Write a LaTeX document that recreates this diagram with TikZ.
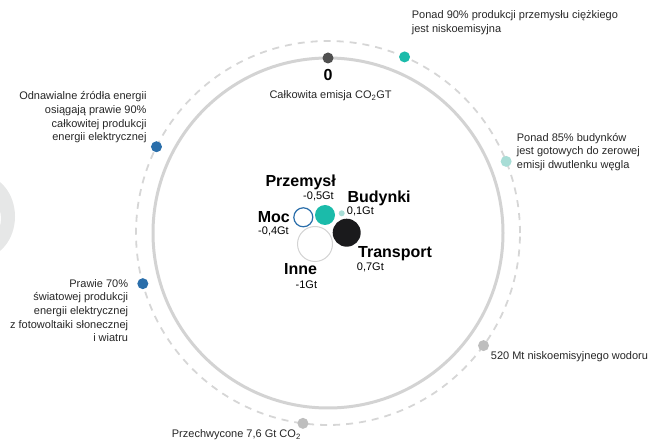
\documentclass[tikz,border=0pt]{standalone}
\usepackage{fontspec}
\setmainfont{Liberation Sans}
\definecolor{ringgray}{RGB}{211,211,211}
\definecolor{dashgray}{RGB}{214,214,214}
\definecolor{dotdark}{RGB}{80,80,80}
\definecolor{dotteal}{RGB}{27,187,170}
\definecolor{dotmint}{RGB}{168,221,214}
\definecolor{dotblue}{RGB}{42,110,170}
\definecolor{dotgray}{RGB}{190,190,190}
\definecolor{ghostgray}{RGB}{230,231,231}
\definecolor{bubblack}{RGB}{26,26,28}
\tikzset{
  note/.style={font=\fontsize{11}{13.6}\selectfont, inner sep=0pt, text=black!85},
  sectorname/.style={font=\fontsize{16}{18}\selectfont\bfseries, inner sep=0pt},
  sectorval/.style={font=\fontsize{11}{13}\selectfont, inner sep=0pt},
  milestone/.style={circle, inner sep=0pt, minimum size=11pt, fill=#1},
}
\begin{document}
\begin{tikzpicture}[x=1pt,y=1pt]
  \useasboundingbox (0,0) rectangle (651,442);
  {

  % Faded shape at the left border
  \begin{scope}
    \clip (0,0) rectangle (651,442);
    \fill [ghostgray, even odd rule] (-20,225.5) ellipse [x radius=35, y radius=42]
                                     (-20,223.5) ellipse [x radius=21, y radius=24];%
  \end{scope}

  % Centre of both rings
  \coordinate (c) at (328,209);

  % Drawing the inner ring
  \draw [ringgray, line width=3pt] (c) circle (175);%

  % Drawing the dashed outer ring
  \draw [dashgray, line width=1.8pt, dash pattern=on 7pt off 6pt] (c) circle (192);%

  % Marking point 0 (top of the inner ring)
  \node [milestone=dotdark] (zero) at ([shift={(90:175)}]c) {};%
  \node [sectorname, anchor=base] (zerolbl) at (328,361) {0};%
  \node [note, anchor=base west] (total) at (269.3,343) {Całkowita emisja CO\textsubscript{2}GT};%

  % Marking heavy industry (anchored at the last line)
  \node [milestone=dotteal] (industry) at ([shift={(66.5:192)}]c) {};%
  \node [note, anchor=base west, align=left] (industrytxt) at (411.7,409.5)
    {Ponad 90\% produkcji przemysłu ciężkiego\\jest niskoemisyjna};%

  % Marking buildings
  \node [milestone=dotmint] (buildings) at ([shift={(21.9:192)}]c) {};%
  \node [note, anchor=base west, align=left] (buildingstxt) at (516.7,273.7)
    {Ponad 85\% budynków\\jest gotowych do zerowej\\emisji dwutlenku węgla};%

  % Marking hydrogen
  \node [milestone=dotgray] (hydrogen) at ([shift={(-35.9:192)}]c) {};%
  \node [note, anchor=base west] (hydrogentxt) at (490.7,82.7) {520 Mt niskoemisyjnego wodoru};%

  % Marking captured CO2
  \node [milestone=dotgray] (capture) at ([shift={(-97.5:192)}]c) {};%
  \node [note, anchor=base west] (capturetxt) at (171.7,4) {Przechwycone 7,6 Gt CO\textsubscript{2}};%

  % Marking solar and wind
  \node [milestone=dotblue] (solar) at ([shift={(195.3:192)}]c) {};%
  \node [note, anchor=base east, align=right] (solartxt) at (128.3,100.3)
    {Prawie 70\%\\światowej produkcji\\energii elektrycznej\\z fotowoltaiki słonecznej\\i wiatru};%

  % Marking renewables
  \node [milestone=dotblue] (renew) at ([shift={(153.3:192)}]c) {};%
  \node [note, anchor=base east, align=right] (renewtxt) at (146.7,301.3)
    {Odnawialne źródła energii\\osiągają prawie 90\%\\całkowitej produkcji\\energii elektrycznej};%

  % Drawing bubble Inne
  \node [circle, draw=ringgray, fill=white, line width=1pt, inner sep=0pt, minimum size=35pt] (inne) at (315,198) {};%
  \node [sectorname, anchor=base east] (innelbl) at (317.3,167) {Inne};%
  \node [sectorval, anchor=base east] (inneval) at (317.3,153.7) {-1Gt};%

  % Drawing bubble Moc
  \node [circle, draw=dotblue, fill=white, line width=1.2pt, inner sep=0pt, minimum size=19pt] (moc) at (303.3,224.7) {};%
  \node [sectorname, anchor=base east] (moclbl) at (290,219.7) {Moc};%
  \node [sectorval, anchor=base east] (mocval) at (289,207.7) {-0,4Gt};%

  % Drawing bubble Przemysl
  \node [circle, fill=dotteal, inner sep=0pt, minimum size=20pt] (przemysl) at (325,227) {};%
  \node [sectorname, anchor=base east] (przemysllbl) at (336,255.3) {Przemysł};%
  \node [sectorval, anchor=base east] (przemyslval) at (334,242.7) {-0,5Gt};%

  % Drawing bubble Budynki
  \node [circle, fill=dotmint, inner sep=0pt, minimum size=6pt] (budynki) at (341.7,228.7) {};%
  \node [sectorname, anchor=base west] (budynkilbl) at (347.3,239.7) {Budynki};%
  \node [sectorval, anchor=base west] (budynkival) at (346.7,227) {0,1Gt};%

  % Drawing bubble Transport
  \node [circle, fill=bubblack, inner sep=0pt, minimum size=28pt] (transport) at (346.7,209.3) {};%
  \node [sectorname, anchor=base west] (transportlbl) at (358,184.7) {Transport};%
  \node [sectorval, anchor=base west] (transportval) at (356.7,171.3) {0,7Gt};%
  }
\end{tikzpicture}
\end{document}
